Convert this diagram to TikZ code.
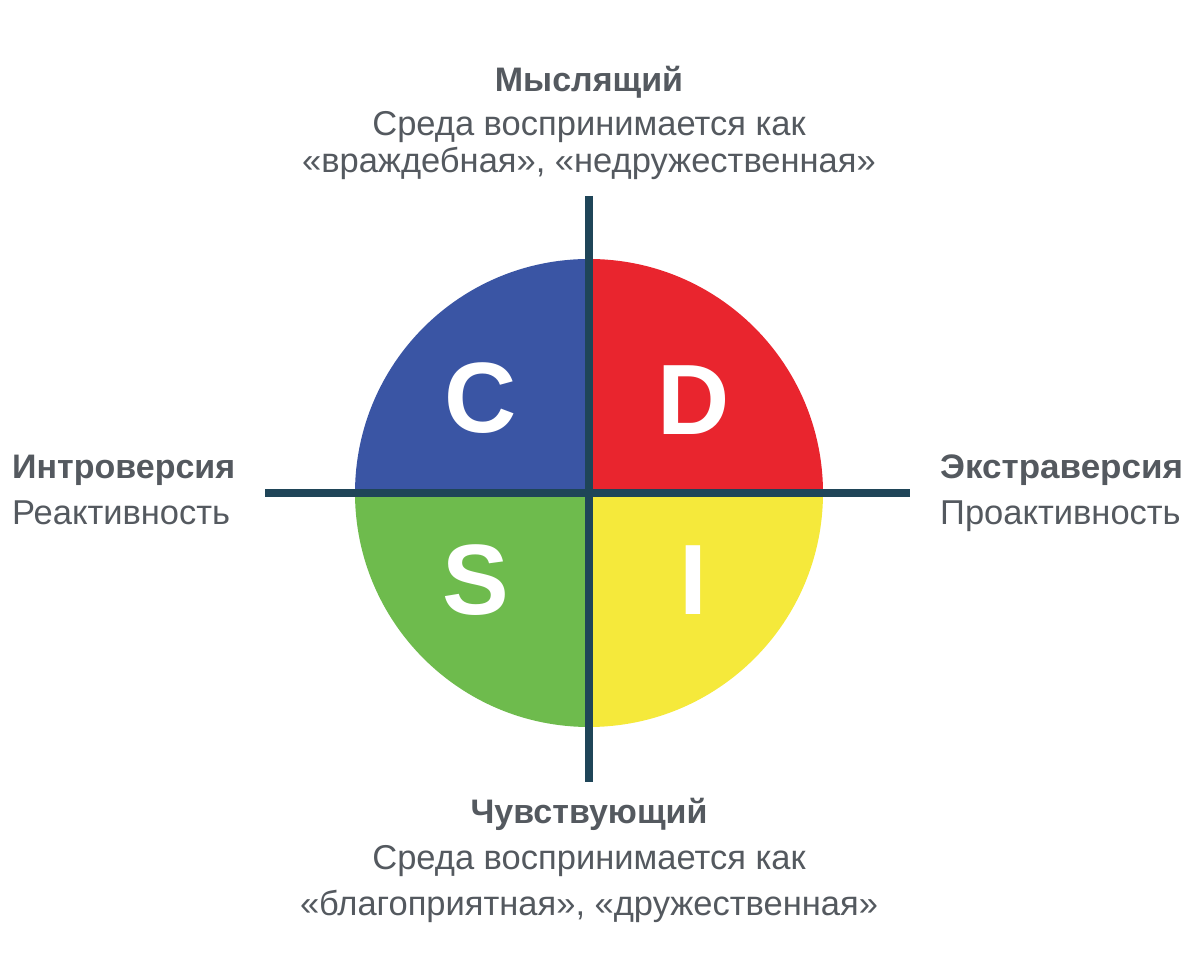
\documentclass[tikz,border=0pt]{standalone}
\usepackage{fontspec}
\setmainfont{Liberation Sans}
\definecolor{txtgray}{HTML}{54595F}
\definecolor{axisc}{HTML}{1F4558}
\definecolor{qblue}{HTML}{3A55A4}
\definecolor{qred}{HTML}{E9252E}
\definecolor{qgreen}{HTML}{6EBB4D}
\definecolor{qyellow}{HTML}{F5E93B}
\newcommand{\bigfont}{\fontsize{100}{100}\selectfont\bfseries}
\newcommand{\headfont}{\fontsize{34}{34}\selectfont\bfseries}
\newcommand{\bodyfont}{\fontsize{34.5}{34.5}\selectfont}

\begin{document}
\begin{tikzpicture}[x=1pt,y=1pt,
        lbl/.style={text=txtgray,inner sep=0pt,anchor=base},
        letter/.style={text=white,inner sep=0pt,font=\bigfont}]
            \useasboundingbox (0,0) rectangle (1200,976);
            \coordinate (o) at (589,483);
            % quadrants
            \foreach \a/\c in {0/qred,90/qblue,180/qgreen,270/qyellow}{
                \fill[\c] (o) -- ++(\a:234) arc (\a:\a+90:234) -- cycle;
            }
            \node[letter] (C) at (481,578) {C};
            \node[letter] (D) at (694,576) {D};
            \node[letter] (S) at (476,396) {S};
            \node[letter] (I) at (693,396) {I};
            % axes
            \coordinate (top) at (589,780);
            \coordinate (bot) at (589,194);
            \coordinate (lft) at (265,483);
            \coordinate (rgt) at (910,483);
            \draw[axisc,line width=8] (top)--(bot);
            \draw[axisc,line width=8] (lft)--(rgt);
            % labels
            \node[lbl,font=\headfont] (think) at (589,884) {Мыслящий};
            \node[lbl,font=\bodyfont] (think1) at (589,840) {Среда воспринимается как};
            \node[lbl,font=\bodyfont] (think2) at (589,803) {«враждебная», «недружественная»};
            \node[lbl,font=\headfont] (feel) at (589,152) {Чувствующий};
            \node[lbl,font=\bodyfont] (feel1) at (589,106) {Среда воспринимается как};
            \node[lbl,font=\bodyfont] (feel2) at (589,60) {«благоприятная», «дружественная»};
            \node[lbl,font=\headfont,anchor=base west] (intro) at (12,497) {Интроверсия};
            \node[lbl,font=\bodyfont,anchor=base west] (intro1) at (12,451) {Реактивность};
            \node[lbl,font=\headfont,anchor=base west,xscale=1.03] (extra) at (940,497) {Экстраверсия};
            \node[lbl,font=\bodyfont,anchor=base west] (extra1) at (940,451) {Проактивность};
        \end{tikzpicture}
\end{document}
